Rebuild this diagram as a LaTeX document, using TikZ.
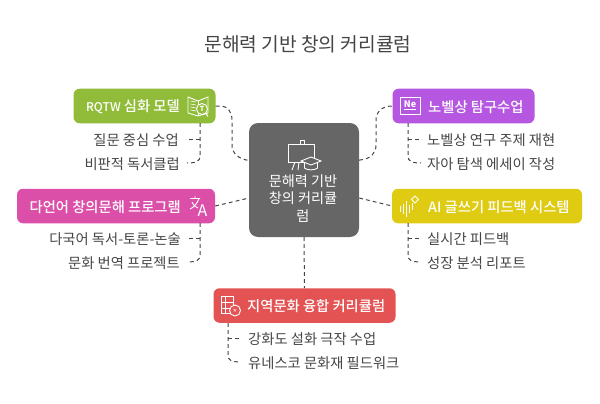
\documentclass[tikz,border=0pt]{standalone}
\usepackage{fontspec}
\setmainfont{Noto Sans CJK KR}
\newfontfamily\cardfont{Noto Sans CJK KR Medium}
\usetikzlibrary{positioning, calc}
\definecolor{inkdark}{HTML}{454545}
\definecolor{inkhub}{HTML}{666666}
\definecolor{inkgreen}{HTML}{90BC3A}
\definecolor{inkpink}{HTML}{DB4FA9}
\definecolor{inkpurple}{HTML}{B557E0}
\definecolor{inkyellow}{HTML}{DFCB12}
\definecolor{inkred}{HTML}{E35353}
\tikzset{x=1pt, y=-1pt,
  card/.style={rectangle, rounded corners=6pt, minimum height=34.5pt, inner sep=0pt},
  cardtext/.style={text=white, font=\fontsize{14.3}{16}\selectfont\cardfont, inner sep=0pt, yshift=-0.7pt},
  leaf/.style={text=inkdark, font=\fontsize{14.3}{16}\selectfont, inner sep=0pt, yshift=-0.7pt},
  link/.style={draw=inkdark, line width=1pt, dash pattern=on 3.8pt off 3.2pt},
  glyph/.style={draw=white, line width=0.9pt}}
\begin{document}
\begin{tikzpicture}
  \useasboundingbox (0,0) rectangle (600,404);
  \node[text=inkdark, font=\fontsize{19.2}{22}\selectfont] (title) at (308,44.7) {문해력 기반 창의 커리큘럼};
  % centre
  \node[card, fill=inkhub, rounded corners=9pt, minimum width=110pt, minimum height=114pt] (hub) at (304,180) {};
  \node[text=white, font=\fontsize{14.2}{17.2}\selectfont, align=center, inner sep=0pt] (hubtext) at (303,198.5) {문해력 기반\\창의 커리큘\\럼};
  % cards
  \node[card, fill=inkgreen, minimum width=142pt] (rqtw) at (144.5,106) {};
  \node[card, fill=inkpink, minimum width=198pt] (lang) at (116,206) {};
  \node[card, fill=inkpurple, minimum width=142pt] (nobel) at (463.5,106) {};
  \node[card, fill=inkyellow, minimum width=190pt] (ai) at (487,206) {};
  \node[card, fill=inkred, minimum width=182pt] (local) at (304.5,305.5) {};
  \node[cardtext, anchor=east] (rqtwtext) at (180,106) {{\fontsize{12}{16}\selectfont RQTW} 심화 모델};
  \node[cardtext, anchor=east] (langtext) at (181,206) {다언어 창의문해 프로그램};
  \node[cardtext, anchor=west] (nobeltext) at (428,106) {노벨상 탐구수업};
  \node[cardtext, anchor=west] (aitext) at (428,206) {AI 글쓰기 피드백 시스템};
  \node[cardtext, anchor=west] (localtext) at (247,305) {지역문화 융합 커리큘럼};
  % leaves
  \node[leaf, anchor=east] (q1) at (179,139) {질문 중심 수업};
  \node[leaf, anchor=east] (q2) at (180,163) {비판적 독서클럽};
  \node[leaf, anchor=east] (l1) at (181,238) {다국어 독서-토론-논술};
  \node[leaf, anchor=east] (l2) at (180,262) {문화 번역 프로젝트};
  \node[leaf, anchor=west] (n1) at (427,139) {노벨상 연구 주제 재현};
  \node[leaf, anchor=west] (n2) at (427,163) {자아 탐색 에세이 작성};
  \node[leaf, anchor=west] (a1) at (427,238) {실시간 피드백};
  \node[leaf, anchor=west] (a2) at (427,262) {성장 분석 리포트};
  \node[leaf, anchor=west] (r1) at (248,338) {강화도 설화 극작 수업};
  \node[leaf, anchor=west] (r2) at (248,362) {유네스코 문화재 필드워크};
  % hub links
  \draw[link] (rqtw.east) -- (222,106) .. controls (228,107) and (232,112) .. (232,120) -- (232,145) .. controls (232,153) and (238,159) .. (249,160.5);
  \draw[link] (lang.east) -- (249,198);
  \draw[link] (hub.east |- 0,160) -- (360,160) .. controls (371,159) and (376,153) .. (376,145) -- (376,120) .. controls (376,112) and (382,106) .. (392,106);
  \draw[link] (hub.east |- 0,198) -- (392,206);
  \draw[link] (hub.south) -- (local.north);
  % leaf links
  \foreach \card/\top/\first/\second/\xa in {rqtw/123/139/163/200, lang/223/238/262/200}{%
    \draw[link] (\xa,\top) -- (\xa,{\second-7}) .. controls (\xa,{\second-2}) and ({\xa-3},\second) .. ({\xa-13},\second);
    \draw[link] (\xa,\first) -- ({\xa-12},\first);}
  \foreach \card/\top/\first/\second/\xa in {nobel/123/139/163/408, ai/223/238/262/408, local/323/338/362/228}{%
    \draw[link] (\xa,\top) -- (\xa,{\second-7}) .. controls (\xa,{\second-2}) and ({\xa+3},\second) .. ({\xa+13},\second);
    \draw[link] (\xa,\first) -- ({\xa+12},\first);}
  % hub glyph
  \draw[glyph] (288,144) rectangle (314,162);
  \draw[glyph] (300,144) -- (300,140) -- (304,140) -- (304,144);
  \draw[glyph] (295,162) -- (292,170) (299,162) -- (298,170);
  \draw[glyph, fill=inkhub] (311,157) -- (321,161) -- (311,165) -- (301,161) -- cycle;
  \draw[glyph] (304.5,163) -- (304.5,168) .. controls (307,170.5) and (315,170.5) .. (317.5,168) -- (317.5,163);
  % card glyphs
  \draw[glyph] (198,101) -- (188,97) -- (188,113) -- (198,116) -- (208,113) -- (208,97) -- cycle;
  \draw[glyph] (198,101) -- (198,116);
  \foreach \yb in {101,104,107,110}{%
    \draw[glyph, line width=0.6pt] (190.5,\yb) -- (196,{\yb+1});}
  \draw[glyph, fill=inkgreen] (202,109) circle (5.5pt);
  \draw[glyph] (205.5,113) -- (208,116.5);
  \node[text=white, font=\fontsize{7}{8}\selectfont\bfseries, inner sep=0pt] (tglyph) at (202,109) {T};
  \draw[glyph] (400,97) rectangle (420,114);
  \node[text=white, font=\fontsize{9}{10}\selectfont\bfseries, inner sep=0pt] (neglyph) at (410,105) {\underline{Ne}};
  \draw[glyph] (190,198.5) -- (200,198.5) (195,196) -- (195,198.5) (199,198.5) .. controls (197,204) and (194,207) .. (190,209) (192,202) .. controls (193,205) and (195,207) .. (198,208);
  \node[text=white, font=\fontsize{16}{18}\selectfont, inner sep=0pt] (aglyph) at (202.5,210.5) {A};
  \foreach \xb/\ya/\yb in {400.5/206/212, 403.5/204/214, 406.5/201/217, 409.5/205/213, 412.5/203/210}{%
    \draw[glyph] (\xb,\ya) -- (\xb,\yb);}
  \draw[glyph] (415,196) -- (418.5,199.5) -- (415,203) -- (411.5,199.5) -- cycle;
  \draw[glyph] (221,296) rectangle (233,313);
  \draw[glyph] (225,296) -- (225,313);
  \draw[glyph] (221,302) -- (233,302) (221,308) -- (233,308);
  \draw[glyph, fill=inkred] (235,310.5) circle (5.5pt);
  \node[text=white, font=\fontsize{8}{9}\selectfont, inner sep=0pt] (starglyph) at (235,310.5) {$\star$};
\end{tikzpicture}
\end{document}
